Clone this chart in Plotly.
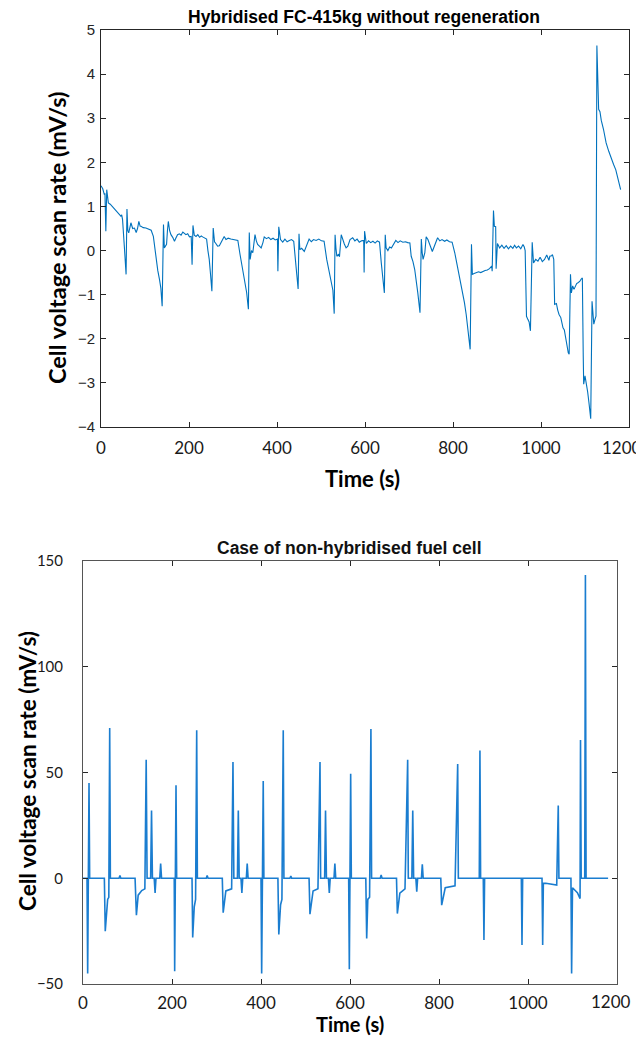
import plotly.graph_objects as go

# ---------------- Top chart data: Hybridised FC-415kg without regeneration ----------------
top_time = [0, 4, 7.6, 9, 11, 13, 16.7, 21, 26.5, 30, 34, 38, 42, 45, 47, 49, 53, 57, 59, 61, 63, 66, 68, 72, 76, 80, 83, 86, 89, 91, 96, 102, 108, 114,
            119, 122, 125, 129, 133, 136, 139, 142, 144, 147, 149, 151, 153, 156, 159, 163, 167, 170, 174, 178, 182, 186, 189, 193, 197, 201, 205,
            207, 209, 212, 216, 220, 224, 228, 231, 235, 240, 243, 246, 249, 252, 255, 258, 261, 265, 269, 273, 277, 280, 284, 289, 295, 300, 306, 311,
            316, 321, 326, 331, 335, 337, 339, 342, 345, 348, 350, 353, 356, 360, 364, 368, 371, 376, 381, 386, 391, 396, 401,
            402, 404, 408, 413, 418, 423, 428, 433, 438, 442, 445, 448, 450, 452, 456, 462, 467, 471, 473, 478, 483, 489, 495, 501, 507,
            513, 518, 523, 527, 530, 532, 534, 536, 540, 542, 546, 549, 553, 557, 561, 566, 572, 577, 582, 587, 592, 597,
            598, 599, 603, 608, 613, 618, 623, 628, 633, 637, 641, 644, 646, 648, 652, 656, 660, 665, 670, 675, 680, 686, 692, 697, 702,
            705, 709, 713, 717, 720, 725, 728, 730, 732, 736, 739, 743, 747, 750, 753, 758, 762, 765, 770, 775, 781, 786, 792, 798,
            804, 807, 811, 815, 819, 823, 826, 830, 834, 837, 839, 842, 844, 848, 853, 858, 863, 868, 873, 878, 883, 888, 889,
            892, 894, 897, 898, 901, 904, 906, 911, 916, 921, 926, 931, 936, 940, 944, 949, 954, 959, 962, 964,
            967, 970, 973, 976, 980, 983, 988, 993, 998, 1003, 1008, 1013, 1018, 1020, 1024, 1026, 1029,
            1031, 1035, 1038, 1041, 1045, 1050, 1053, 1056, 1059, 1062, 1064, 1067, 1069, 1072, 1075, 1077, 1081, 1084, 1088, 1091, 1094,
            1096, 1097, 1100, 1103, 1106, 1109, 1111, 1113, 1116, 1118, 1120, 1123, 1125, 1127, 1129, 1131, 1134, 1137, 1142, 1148, 1154,
            1160, 1165, 1170, 1175, 1179, 1181]
top_rate = [1.47, 1.40, 1.27, 1.30, 0.44, 1.38, 1.08, 1.05, 0.99, 0.95, 0.90, 0.85, 0.83, 0.78, 0.81, 0.70, 0.10, -0.54, 0.94, 0.45, 0.40, 0.55, 0.63, 0.50, 0.51, 0.41, 0.50, 0.66, 0.55, 0.55, 0.52, 0.51, 0.48, 0.46,
            0.32, 0.05, -0.20, -0.45, -0.66, -0.85, -1.26, 0.59, 0.06, 0.10, 0.14, 0.45, 0.66, 0.45, 0.36, 0.30, 0.21, 0.28, 0.36, 0.38, 0.35, 0.42, 0.40, 0.36, 0.38, 0.31, 0.32,
            -0.32, 0.57, 0.35, 0.32, 0.36, 0.30, 0.33, 0.31, 0.28, 0.26, 0.00, -0.20, -0.55, -0.92, 0.51, 0.20, 0.16, 0.10, 0.11, 0.20, 0.28, 0.32, 0.25, 0.28, 0.26, 0.25, 0.24, 0.23,
            -0.09, -0.40, -0.73, -0.95, -1.33, 0.41, -0.20, 0.00, -0.05, 0.25, 0.36, 0.22, 0.14, 0.10, 0.06, 0.18, 0.31, 0.27, 0.30, 0.25, 0.28, 0.24, 0.26,
            -0.47, 0.54, 0.25, 0.19, 0.26, 0.20, 0.23, 0.25, 0.21, -0.35, -0.55, -0.87, 0.38, 0.02, 0.05, -0.02, 0.12, 0.20, 0.26, 0.20, 0.25, 0.23, 0.26, 0.22, 0.21,
            -0.20, -0.45, -0.77, -0.90, -1.43, 0.36, 0.05, -0.13, -0.08, -0.14, 0.36, 0.25, 0.15, 0.06, 0.10, 0.25, 0.29, 0.22, 0.26, 0.19, 0.22, 0.23,
            -0.50, 0.44, 0.16, 0.22, 0.18, 0.21, 0.17, 0.22, 0.19, -0.28, -0.73, -0.96, 0.36, 0.06, 0.00, 0.08, 0.06, 0.15, 0.23, 0.18, 0.22, 0.19, 0.20, 0.18, 0.17,
            -0.13, -0.25, -0.43, -0.70, -0.96, -1.41, 0.26, -0.05, -0.20, -0.05, 0.31, 0.25, 0.14, 0.05, -0.02, 0.11, 0.20, 0.29, 0.22, 0.25, 0.21, 0.24, 0.20, 0.19,
            -0.05, -0.20, -0.35, -0.55, -0.81, -1.00, -1.18, -1.45, -1.79, -1.95, -2.24, 0.14, -0.54, -0.52, -0.50, -0.48, -0.50, -0.47, -0.45, -0.44, -0.41, -0.35, -0.47,
            0.91, 0.55, 0.54, -0.41, 0.16, 0.10, 0.06, 0.12, 0.05, 0.11, 0.04, 0.10, 0.05, 0.12, 0.06, 0.10, 0.04, 0.14, 0.08, 0.00,
            -1.49, -1.56, -1.62, -1.82, 0.19, -0.28, -0.20, -0.24, -0.15, -0.25, -0.20, -0.10, -0.22, -0.13, -0.12, -0.09, -0.20,
            -1.22, -1.20, -1.35, -1.45, -1.52, -1.75, -1.80, -2.01, -2.20, -2.32, -2.35, -0.54, -0.96, -0.80, -0.88, -0.84, -0.75, -0.73, -0.70, -0.65, -0.62,
            -2.39, -3.03, -2.84, -2.99, -3.20, -3.45, -3.62, -3.81, -1.15, -1.45, -1.67, -1.55, -1.49, 4.65, 3.40, 3.20, 3.15, 2.95, 2.75, 2.44, 2.25,
            2.06, 1.95, 1.83, 1.60, 1.42, 1.38]

# ---------------- Bottom chart data: Case of non-hybridised fuel cell ----------------
bot_time = [0, 9, 10.5, 12, 13.5, 15, 48, 50, 53, 55.4, 58, 60, 61.5, 81, 83, 85, 117, 120, 124, 132, 139, 142, 144, 152, 154, 156, 160, 162, 164,
            172.5, 174.5, 176.5, 205, 206, 207.5, 209, 210.5, 245, 246.5, 250, 253, 255.5, 257, 277, 279, 281, 313, 315, 321, 334, 337, 339,
            347, 349, 351, 355, 357, 359, 367, 369, 371, 400, 401.5, 403, 405, 406.5, 438, 440, 444, 447, 450, 451.5, 465, 467, 469,
            508, 510, 517, 528, 532.6, 534, 543, 545, 547, 551.5, 553.5, 555.5, 564, 566, 568, 597, 598.5, 600, 601.5, 603,
            635.5, 637.5, 640, 644, 647, 648.5, 668, 670, 672, 704.5, 706.4, 712, 723.6, 729.6, 731, 739, 741, 743, 748, 750, 752,
            760.5, 762.5, 764.5, 804, 806, 814, 836, 842, 843.5, 890.5, 892, 893.5, 899.5, 901, 902.5, 985, 986.5, 988,
            1031.5, 1033, 1034.5, 1040, 1064.5, 1068, 1069.5, 1096.5, 1098, 1100, 1111, 1117, 1118, 1119.5, 1127.5, 1129, 1130.5, 1180]
bot_rate = [0, 0, -45, 0, 45, 0, 0, -25, -14, -10, -9, 71, 0, 0, 1.3, 0, 0, -17.5, -8, -5.8, -5, 56, 0, 0, 32, 0, 0, -7, 0,
            0, 7, 0, 0, -44, 0, 44, 0, 0, -28, -13.5, -10, 70, 0, 0, 1.3, 0, 0, -16.3, -6, -5, 55, 0,
            0, 32, 0, 0, -7, 0, 0, 7, 0, 0, -45, 0, 46, 0, 0, -26.6, -12.5, -10, 70, 0, 0, 1, 0,
            0, -17, -6, -5, 55, 0, 0, 32, 0, 0, -7, 0, 0, 7, 0, 0, -43, 0, 49.4, 0,
            0, -28.5, -10, -9, 70.6, 0, 0, 1.5, 0, 0, -16.7, -7, -5, 56, 0, 0, 32, 0, 0, -6.4, 0,
            0, 6.6, 0, 0, -12.7, -4.5, -3.6, 54, 0, 0, 60.4, 0, 0, -29.2, 0, 0, -31.6, 0,
            0, -31.6, -2.4, -2.4, -3.2, 34.4, 0, 0, -45, -4.5, -6.8, -9.6, 65.4, 0, 0, 143.4, 0, 0]

x_ticks = [0, 200, 400, 600, 800, 1000, 1200]
# the last label ("1200") sits against the page edge, so it is drawn as a separate text nudged inward
x_tick_text = ["0", "200", "400", "600", "800", "1000", ""]
x_last_label = "1200"
top_y_ticks = [-4, -3, -2, -1, 0, 1, 2, 3, 4, 5]
bot_y_ticks = [-50, 0, 50, 100, 150]

# the page body has an 8px margin; the figure starts at (8, 8) in the window
OFF = 8
W, H = 644 - OFF, 1044 - 2 * OFF
def px_x(p): return (p - OFF) / W
def px_y(p): return 1 - (p - OFF) / H

fig = go.Figure()
fig.add_trace(go.Scatter(x=top_time, y=top_rate, mode="lines",
                         line=dict(color="#0072BD", width=1.1), xaxis="x", yaxis="y", showlegend=False))
fig.add_trace(go.Scatter(x=bot_time, y=bot_rate, mode="lines",
                         line=dict(color="#1a7dd0", width=1.6), xaxis="x2", yaxis="y2", showlegend=False))

axis_common = dict(showline=True, linewidth=1, mirror="ticks", ticks="inside",
                   ticklen=5, tickcolor="#262626", showgrid=False, zeroline=False, automargin=False)

calibri_like = "Lato, 'Open Sans', sans-serif"
arial_like = "'Liberation Sans', Arial, sans-serif"
xtick_font = dict(family=calibri_like, size=17, color="#1a1a1a")

fig.update_layout(
    width=W, height=H, margin=dict(l=0, r=0, t=0, b=0),
    paper_bgcolor="white", plot_bgcolor="white",
    xaxis=dict(domain=[px_x(101), px_x(629)], range=[0, 1200], tickvals=x_ticks, ticktext=x_tick_text, anchor="y",
               linecolor="#262626", ticklabelstandoff=6, tickfont=xtick_font, **axis_common),
    yaxis=dict(domain=[px_y(427), px_y(30)], range=[-4, 5], tickvals=top_y_ticks, anchor="x",
               linecolor="#262626", ticklabelstandoff=2,
               tickfont=dict(family=arial_like, size=15, color="#262626"), **axis_common),
    xaxis2=dict(domain=[px_x(83), px_x(617)], range=[0, 1200], tickvals=x_ticks, ticktext=x_tick_text, anchor="y2",
                linecolor="#555555", ticklabelstandoff=4, tickfont=xtick_font, **axis_common),
    yaxis2=dict(domain=[px_y(984), px_y(561)], range=[-50, 150], tickvals=bot_y_ticks, anchor="x2",
                linecolor="#555555", ticklabelstandoff=16,
                tickfont=dict(family=calibri_like, size=15, color="#1a1a1a"), **axis_common),
)

annotations = [
    dict(text="<b>Hybridised FC-415kg without regeneration</b>", x=px_x(364), y=px_y(17),
         font=dict(family=arial_like, size=17.5, color="#000000")),
    dict(text="<b>Time (s)</b>", x=px_x(362), y=px_y(479),
         font=dict(family=calibri_like, size=22, color="#000000")),
    dict(text="<b>Cell voltage scan rate (mV/s)</b>", x=px_x(57), y=px_y(238), textangle=-90,
         font=dict(family=calibri_like, size=23.5, color="#000000")),
    dict(text="<b>Case of non-hybridised fuel cell</b>", x=px_x(349), y=px_y(548),
         font=dict(family=arial_like, size=17.5, color="#111111")),
    dict(text="<b>Time (s)</b>", x=px_x(350), y=px_y(1024),
         font=dict(family=calibri_like, size=20, color="#000000")),
    dict(text="<b>Cell voltage scan rate (mV/s)</b>", x=px_x(27), y=px_y(771), textangle=-90,
         font=dict(family=calibri_like, size=22.5, color="#000000")),
    dict(text=x_last_label, x=px_x(622), y=px_y(447), font=xtick_font),
    dict(text=x_last_label, x=px_x(611), y=px_y(1001), font=xtick_font),
]
for a in annotations:
    a.update(xref="paper", yref="paper", showarrow=False, xanchor="center", yanchor="middle")
fig.update_layout(annotations=annotations)

fig.write_html("out.html")
